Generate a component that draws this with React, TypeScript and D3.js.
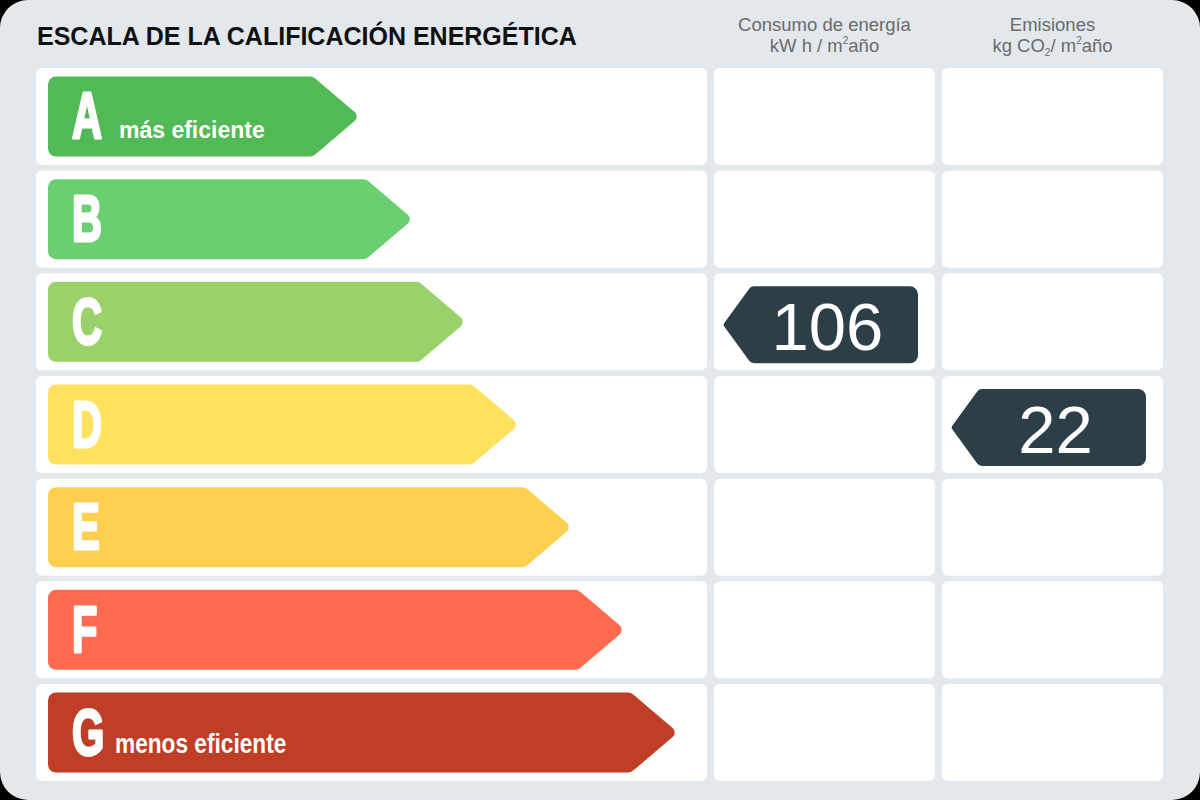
import React from 'react';
import * as d3 from 'd3';

// energy classes, best to worst
const classes = ['A', 'B', 'C', 'D', 'E', 'F', 'G'];
const classColors = ['#52b957', '#6bcf72', '#9bd16b', '#ffe15d', '#ffd04f', '#ff6a50', '#c03d26'];
const classNotes: Record<string, string> = { A: 'más eficiente', G: 'menos eficiente' };

// the two ratings of the building
const energyClass = 'C';
const energyValue = 106;
const emissionsClass = 'D';
const emissionsValue = 22;

const W = 1200;
const H = 800;
const FONT = '"Liberation Sans", Arial, sans-serif';

const cols = [
  { x: 36, w: 671 },
  { x: 714, w: 221 },
  { x: 942, w: 221 },
];

function arrowPath(x0: number, tip: number, y0: number, h: number) {
  const y1 = y0 + h;
  const ym = y0 + h / 2;
  const bodyEnd = tip - 47;
  const p = d3.path();
  p.moveTo(x0 + 8, y0);
  p.arcTo(bodyEnd, y0, tip, ym, 8);
  p.arcTo(tip, ym, bodyEnd, y1, 6);
  p.arcTo(bodyEnd, y1, x0, y1, 8);
  p.arcTo(x0, y1, x0, y0, 8);
  p.arcTo(x0, y0, bodyEnd, y0, 8);
  p.closePath();
  return p.toString();
}

function badgePath(tip: number, right: number, yMid: number, h: number) {
  const y0 = yMid - h / 2;
  const y1 = yMid + h / 2;
  const bodyStart = tip + 28;
  const p = d3.path();
  p.moveTo(bodyStart + 6, y0);
  p.arcTo(right, y0, right, y1, 8);
  p.arcTo(right, y1, bodyStart, y1, 8);
  p.arcTo(bodyStart, y1, tip, yMid, 6);
  p.arcTo(tip, yMid, bodyStart, y0, 3);
  p.arcTo(bodyStart, y0, right, y0, 6);
  p.closePath();
  return p.toString();
}

export default function App() {
  const y = d3.scaleBand<string>().domain(classes).range([68, 781]).paddingInner(0.0555);
  const tipX = d3.scaleLinear().domain([0, classes.length - 1]).range([360, 678]);
  const bw = y.bandwidth();
  const arrowH = 80;

  const badge = (col: number, cls: string, value: number) => {
    const c = cols[col];
    const tip = c.x + 9;
    const right = c.x + c.w - 17;
    const mid = (y(cls) as number) + bw / 2 + 3;
    return (
      <g key={'badge' + col}>
        <path d={badgePath(tip, right, mid, 77)} fill="#2c3e48" />
        <text
          x={(tip + 28 + right) / 2 - 7}
          y={mid + 25}
          textAnchor="middle"
          fontFamily={FONT}
          fontSize={67}
          fill="#fff"
        >
          {value}
        </text>
      </g>
    );
  };

  return (
    <svg width={W} height={H} style={{ position: 'absolute', left: 0, top: 0 }}>
      <rect width={W} height={H} fill="#000" />
      <rect width={W} height={H} rx={28} fill="#e2e8eb" />

      <text x={37} y={45} fontFamily={FONT} fontWeight="bold" fontSize={25} fill="#111">
        ESCALA DE LA CALIFICACIÓN ENERGÉTICA
      </text>

      <g fontFamily={FONT} fontSize={18.5} fill="#6b6b6b" textAnchor="middle">
        <text x={cols[1].x + cols[1].w / 2} y={31}>Consumo de energía</text>
        <text x={cols[1].x + cols[1].w / 2} y={52}>
          kW h / m<tspan fontSize={10} dy={-8}>2</tspan>
          <tspan dy={8}>año</tspan>
        </text>
        <text x={cols[2].x + cols[2].w / 2} y={31}>Emisiones</text>
        <text x={cols[2].x + cols[2].w / 2} y={52}>
          kg CO<tspan fontSize={10} dy={4}>2</tspan>
          <tspan dy={-4}>/ m</tspan>
          <tspan fontSize={10} dy={-8}>2</tspan>
          <tspan dy={8}>año</tspan>
        </text>
      </g>

      {classes.map((cls, i) => {
        const ry = y(cls) as number;
        const ay = ry + (bw - arrowH) / 2;
        const note = classNotes[cls];
        return (
          <g key={cls}>
            {cols.map((c, j) => (
              <rect key={j} x={c.x} y={ry} width={c.w} height={bw} rx={6} fill="#fff" />
            ))}
            <path d={arrowPath(48, tipX(i), ay, arrowH)} fill={classColors[i]} />
            <text
              transform={`translate(72, ${ay + 62}) scale(0.64, 1)`}
              fontFamily={FONT}
              fontWeight="bold"
              fontSize={65}
              fill="#fff"
              stroke="#fff"
              strokeWidth={3}
              strokeLinejoin="round"
            >
              {cls}
            </text>
            {note && cls === 'A' && (
              <text x={119} y={ay + 62} fontFamily={FONT} fontWeight="bold" fontSize={23} fill="#fff">
                {note}
              </text>
            )}
            {note && cls !== 'A' && (
              <text
                transform={`translate(115, ${ay + 60}) scale(0.84, 1)`}
                fontFamily={FONT}
                fontWeight="bold"
                fontSize={27}
                fill="#fff"
              >
                {note}
              </text>
            )}
          </g>
        );
      })}

      {badge(1, energyClass, energyValue)}
      {badge(2, emissionsClass, emissionsValue)}
    </svg>
  );
}
